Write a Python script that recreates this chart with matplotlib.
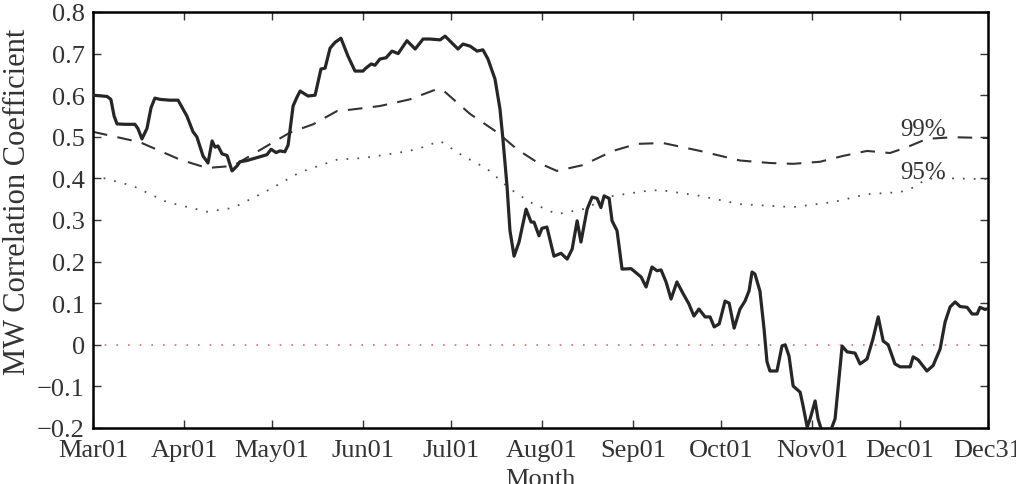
import matplotlib
matplotlib.use("Agg")
import matplotlib.pyplot as plt

# Days since Mar01 and MW correlation coefficient
corr_day = [0, 4.8, 6.1, 7.2, 8.2, 10.9, 14.3, 15.3, 16.7, 18.4, 19.8, 21.1, 22.8, 26.2, 29.0,
            32.0, 34.1, 35.4, 37.5, 39.2, 40.6, 41.6, 42.6, 44.0, 45.7, 47.4, 49.1, 50.1, 52.5,
            54.5, 56.9, 59.3, 60.7, 62.4, 63.7, 65.4, 66.5, 68.2, 69.5, 70.6, 73.3, 75.7, 77.7,
            79.1, 80.8, 82.5, 84.5, 86.9, 89.3, 92.0, 93.0, 94.8, 96.1, 97.8, 99.9, 101.9, 104.0,
            107.0, 109.8, 112.5, 114.9, 118.3, 120.0, 124.4, 126.1, 128.5, 130.9, 132.9, 134.6,
            137.0, 138.7, 139.7, 141.1, 142.1, 143.5, 145.2, 147.6, 149.3, 150.3, 152.0, 153.0,
            154.7, 157.1, 159.5, 161.6, 163.3, 165.0, 166.3, 168.4, 170.1, 171.8, 173.1, 174.2,
            175.9, 176.9, 178.6, 180.3, 183.4, 186.8, 188.5, 190.5, 192.2, 193.6, 195.3, 197.0,
            199.0, 200.8, 203.1, 204.8, 206.5, 208.6, 210.3, 211.7, 213.4, 215.4, 216.8, 218.5,
            220.5, 222.2, 223.6, 224.6, 225.6, 227.3, 228.7, 229.7, 230.7, 233.1, 234.8, 235.9,
            237.2, 238.6, 241.0, 242.0, 243.4, 244.4, 246.1, 247.1, 248.5, 251.2, 252.9, 253.9,
            255.3, 257.0, 259.7, 261.4, 263.8, 265.8, 267.6, 269.3, 271.0, 273.3, 275.1, 278.5,
            279.5, 281.2, 284.2, 286.3, 288.7, 290.4, 292.1, 293.8, 295.5, 297.9, 299.6, 301.3,
            302.3, 304.0, 305.0]
corr_val = [0.600, 0.597, 0.59, 0.55, 0.531, 0.53, 0.53, 0.52, 0.495, 0.52, 0.57, 0.593, 0.590,
            0.588, 0.588, 0.55, 0.512, 0.50, 0.454, 0.437, 0.49, 0.475, 0.478, 0.459, 0.455,
            0.418, 0.43, 0.44, 0.443, 0.447, 0.452, 0.457, 0.47, 0.462, 0.466, 0.464, 0.48,
            0.574, 0.595, 0.61, 0.598, 0.60, 0.663, 0.665, 0.713, 0.727, 0.737, 0.694, 0.658,
            0.658, 0.665, 0.675, 0.672, 0.687, 0.69, 0.706, 0.70, 0.731, 0.711, 0.735, 0.735,
            0.733, 0.742, 0.711, 0.723, 0.718, 0.706, 0.709, 0.687, 0.639, 0.567, 0.495, 0.382,
            0.275, 0.213, 0.247, 0.326, 0.295, 0.295, 0.262, 0.28, 0.283, 0.213, 0.22, 0.206,
            0.23, 0.298, 0.247, 0.326, 0.355, 0.352, 0.33, 0.358, 0.352, 0.298, 0.274, 0.182,
            0.183, 0.163, 0.139, 0.187, 0.178, 0.18, 0.151, 0.11, 0.151, 0.127, 0.098, 0.069,
            0.086, 0.067, 0.067, 0.043, 0.05, 0.105, 0.10, 0.040, 0.086, 0.105, 0.13, 0.175,
            0.17, 0.129, 0.038, -0.041, -0.063, -0.063, -0.003, 0.0, -0.027, -0.099, -0.114,
            -0.147, -0.198, -0.178, -0.135, -0.178, -0.21, -0.21, -0.178, -0.106, -0.003,
            -0.017, -0.02, -0.046, -0.034, 0.014, 0.067, 0.009, 0.0, -0.046, -0.053, -0.053,
            -0.029, -0.036, -0.063, -0.05, -0.01, 0.055, 0.091, 0.103, 0.092, 0.09, 0.074,
            0.074, 0.09, 0.085, 0.087]

sig99_day = [0, 16.0, 29.7, 38.9, 47.7, 59.3, 67.1, 75.0, 83.2, 87.6, 97.8, 108.0, 116.6, 119.3,
             128.5, 137.7, 144.5, 151.3, 158.1, 167.0, 177.2, 185.4, 194.3, 206.9, 220.5, 230.7,
             238.6, 247.8, 255.6, 263.8, 271.6, 277.4, 284.2, 293.1, 305.0]
sig99_val = [0.512, 0.487, 0.445, 0.425, 0.43, 0.478, 0.51, 0.53, 0.562, 0.565, 0.574, 0.59,
             0.613, 0.612, 0.555, 0.511, 0.47, 0.439, 0.418, 0.432, 0.466, 0.483, 0.485, 0.466,
             0.443, 0.437, 0.435, 0.44, 0.454, 0.466, 0.461, 0.475, 0.495, 0.499, 0.497]

sig95_day = [0, 2.4, 13.6, 25.2, 38.9, 47.7, 59.3, 70.6, 83.2, 92.0, 103.6, 110.4, 118.3, 126.1,
             134.3, 142.1, 148.9, 158.1, 167.0, 177.2, 188.8, 193.3, 206.9, 220.5, 238.6, 252.2,
             263.8, 275.1, 279.5, 284.2, 293.1, 305.0]
sig95_val = [0.405, 0.403, 0.382, 0.343, 0.32, 0.329, 0.370, 0.415, 0.445, 0.449, 0.461, 0.47,
             0.49, 0.454, 0.423, 0.375, 0.343, 0.314, 0.326, 0.358, 0.370, 0.372, 0.358, 0.338,
             0.331, 0.343, 0.362, 0.367, 0.378, 0.399, 0.4, 0.398]

tick_days = [0, 31, 61, 92, 122, 153, 184, 214, 245, 275, 305]
tick_labels = ["Mar01", "Apr01", "May01", "Jun01", "Jul01", "Aug01", "Sep01", "Oct01",
               "Nov01", "Dec01", "Dec31"]
y_ticks = [-0.2, -0.1, 0, 0.1, 0.2, 0.3, 0.4, 0.5, 0.6, 0.7, 0.8]
y_tick_labels = ["\u22120.2", "\u22120.1", "0", "0.1", "0.2", "0.3", "0.4", "0.5", "0.6", "0.7", "0.8"]

plt.rcParams['font.family'] = ['Liberation Serif', 'DejaVu Serif']

fig = plt.figure(figsize=(10.16, 4.85), dpi=100)
ax = fig.add_axes([0.0915, 0.1155, 0.8809, 0.8577])

ax.axhline(0, color='#e06a6a', lw=1.2, ls=(0, (1, 6)), zorder=1)
ax.plot(sig95_day, sig95_val, color='#555555', lw=1.3, ls=(0, (1, 5)), zorder=2)
ax.plot(sig99_day, sig99_val, color='#333333', lw=1.5, ls=(0, (7, 5)), zorder=2)
ax.plot(corr_day, corr_val, color='#262626', lw=2.3, zorder=3)

ax.text(275, 0.505, "99%", fontsize=18, color='#333333', ha='left', va='baseline')
ax.text(275, 0.402, "95%", fontsize=18, color='#333333', ha='left', va='baseline')

ax.set_xlim(0, 305)
ax.set_ylim(-0.2, 0.8)
ax.set_xticks(tick_days)
ax.set_xticklabels(tick_labels)
ax.set_yticks(y_ticks)
ax.set_yticklabels(y_tick_labels)
ax.tick_params(direction='in', length=6, width=1.0, top=True, right=True,
               labelsize=19, labelcolor='#333333', color='#333333')
ax.tick_params(axis='x', pad=8)
ax.tick_params(axis='y', pad=6)
for s in ax.spines.values():
    s.set_linewidth(1.8)
    s.set_color('black')

ax.set_xlabel("Month", fontsize=19, color='#333333', labelpad=5)
ax.set_ylabel("MW Correlation Coefficient", fontsize=22, color='#333333')
ax.yaxis.set_label_coords(-0.068, 0.545)

fig.savefig("out.png", dpi=100)
